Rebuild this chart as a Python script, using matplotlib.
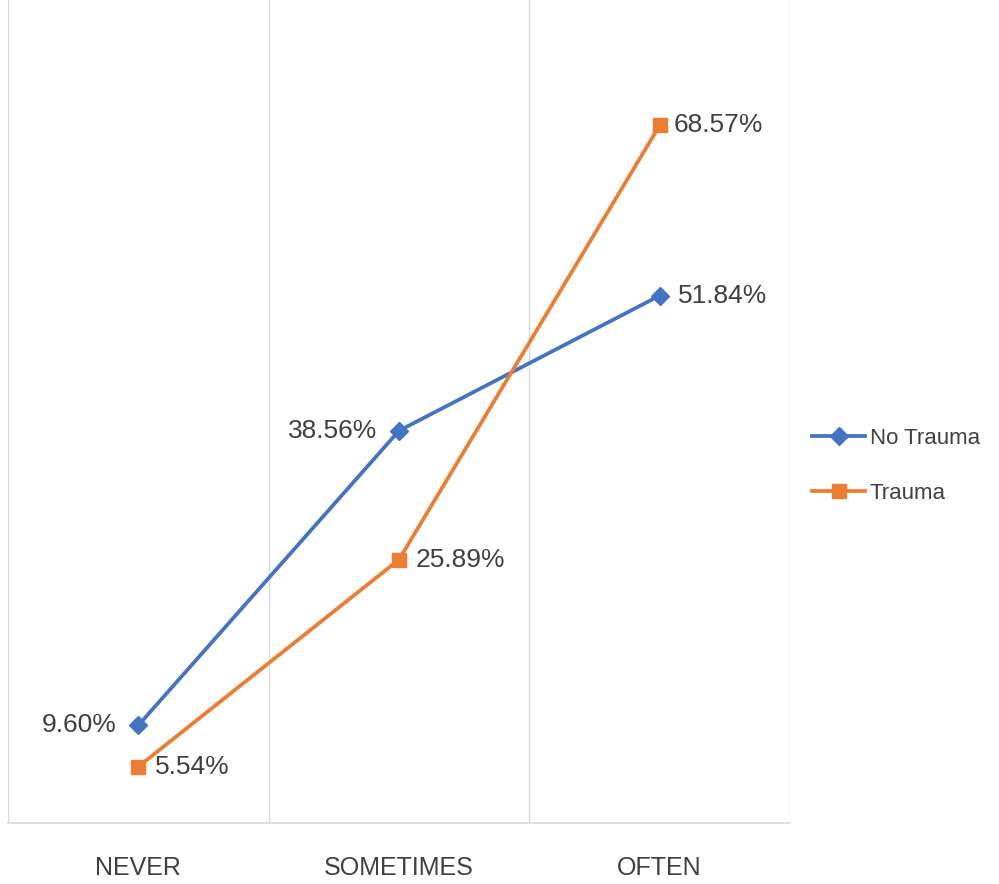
import matplotlib
matplotlib.use("Agg")
import matplotlib.pyplot as plt

categories = ["NEVER", "SOMETIMES", "OFTEN"]
no_trauma = [9.60, 38.56, 51.84]
trauma = [5.54, 25.89, 68.57]
no_trauma_labels = ["9.60%", "38.56%", "51.84%"]
trauma_labels = ["5.54%", "25.89%", "68.57%"]

plt.rcParams['font.family'] = ['Liberation Sans', 'DejaVu Sans']

BLUE = "#4472C4"
ORANGE = "#ED7D31"
TXT = "#404040"

fig = plt.figure(figsize=(9.99, 8.84), dpi=100)
ax = fig.add_axes([8/999, (884-823)/884, (790-8)/999, 823/884])
x = list(range(len(categories)))

ax.plot(x, no_trauma, color=BLUE, lw=2.7, marker="D", ms=9.5, label="No Trauma", zorder=3)
ax.plot(x, trauma, color=ORANGE, lw=2.7, marker="s", ms=10.5, label="Trauma", zorder=3)

px = 0.72
nt_off = [(-22, "right"), (-22, "right"), (18, "left")]
t_off = [(17, "left"), (17, "left"), (14, "left")]
for i, (v, lab) in enumerate(zip(no_trauma, no_trauma_labels)):
    dx, ha = nt_off[i]
    ax.annotate(lab, (i, v), xytext=(dx*px, 0), textcoords="offset points",
                ha=ha, va="center", fontsize=19, color=TXT)
for i, (v, lab) in enumerate(zip(trauma, trauma_labels)):
    dx, ha = t_off[i]
    ax.annotate(lab, (i, v), xytext=(dx*px, 0), textcoords="offset points",
                ha=ha, va="center", fontsize=19, color=TXT)

ax.set_xlim(-0.5, 2.5)
ax.set_ylim(0, 80.9)
for b in [-0.5, 0.5, 1.5, 2.5]:
    ax.axvline(b, color="#d9d9d9", lw=1.0, zorder=0)
for s in ["top", "left", "right"]:
    ax.spines[s].set_visible(False)
ax.spines["bottom"].set_color("#d9d9d9")
ax.spines["bottom"].set_linewidth(1.2)
ax.set_yticks([])
ax.set_xticks(x)
ax.set_xticklabels(categories, fontsize=18, color=TXT)
ax.tick_params(axis="x", length=0, pad=24)

leg = fig.legend(loc="center left", bbox_to_anchor=(812/999, 1-466/884), frameon=False,
                 fontsize=16, handlelength=2.4, handletextpad=0.2, labelspacing=1.55,
                 borderpad=0, borderaxespad=0)
for t in leg.get_texts():
    t.set_color(TXT)

fig.savefig("out.png", dpi=100)
